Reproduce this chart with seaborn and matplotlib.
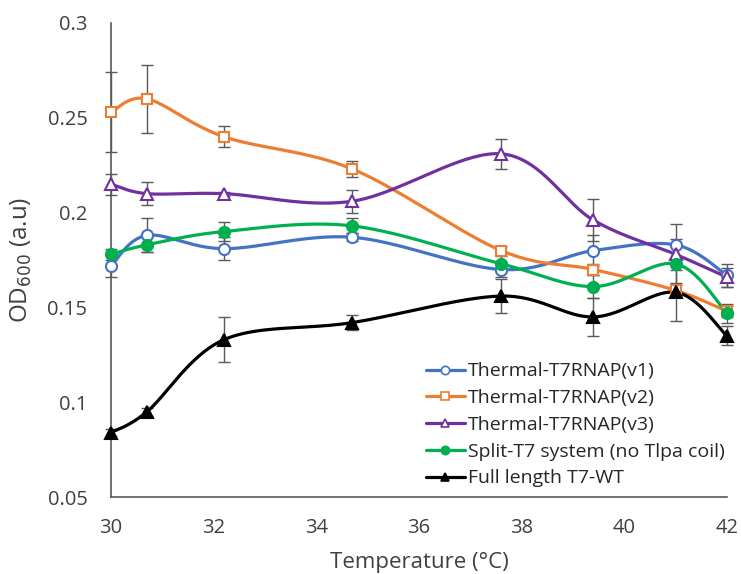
import numpy as np
import pandas as pd
import matplotlib
matplotlib.use("Agg")
import matplotlib.pyplot as plt
from matplotlib.lines import Line2D
from matplotlib.ticker import FuncFormatter
import seaborn as sns

# Temperatures at which OD600 was measured
temperature = [30.0, 30.7, 32.2, 34.7, 37.6, 39.4, 41.0, 42.0]

v1_mean = [0.172, 0.188, 0.181, 0.187, 0.170, 0.180, 0.183, 0.167]
v1_err = [0.006, 0.009, 0.006, 0.002, 0.004, 0.008, 0.011, 0.006]

v2_mean = [0.253, 0.260, 0.240, 0.223, 0.180, 0.170, 0.159, 0.148]
v2_err = [0.021, 0.018, 0.0055, 0.004, 0.002, 0.003, 0.003, 0.003]

v3_mean = [0.215, 0.210, 0.210, 0.206, 0.231, 0.196, 0.178, 0.166]
v3_err = [0.0055, 0.006, 0.001, 0.006, 0.008, 0.011, 0.008, 0.005]

split_mean = [0.178, 0.183, 0.190, 0.193, 0.173, 0.161, 0.173, 0.147]
split_err = [0.003, 0.004, 0.005, 0.004, 0.004, 0.006, 0.010, 0.005]

wt_mean = [0.084, 0.095, 0.133, 0.142, 0.156, 0.145, 0.158, 0.135]
wt_err = [0.002, 0.002, 0.012, 0.004, 0.009, 0.010, 0.015, 0.005]

labels = [
    "Thermal-T7RNAP(v1)",
    "Thermal-T7RNAP(v2)",
    "Thermal-T7RNAP(v3)",
    "Split-T7 system (no Tlpa coil)",
    "Full length T7-WT",
]
means = [v1_mean, v2_mean, v3_mean, split_mean, wt_mean]
errors = [v1_err, v2_err, v3_err, split_err, wt_err]

colors = ["#4472C4", "#ED7D31", "#7030A0", "#00B050", "#000000"]
markers = ["o", "s", "^", "o", "^"]
hollow = [True, True, True, False, False]


def smooth_curve(xs, ys, n=40):
    """Catmull-Rom style Bezier smoothing through every point."""
    pts = np.column_stack([xs, ys]).astype(float)
    p = np.vstack([pts[0], pts, pts[-1]])
    out = []
    t = np.linspace(0, 1, n)[:, None]
    for i in range(1, len(p) - 2):
        p0, p1, p2, p3 = p[i - 1], p[i], p[i + 1], p[i + 2]
        c1 = p1 + (p2 - p0) / 6.0
        c2 = p2 - (p3 - p1) / 6.0
        seg = ((1 - t) ** 3) * p1 + 3 * ((1 - t) ** 2) * t * c1 \
            + 3 * (1 - t) * t ** 2 * c2 + t ** 3 * p2
        out.append(seg if i == 1 else seg[1:])
    curve = np.vstack(out)
    return curve[:, 0], curve[:, 1]


sns.set_theme(style="white")
plt.rcParams["font.family"] = ["Open Sans", "DejaVu Sans"]

fig = plt.figure(figsize=(7.41, 5.74), dpi=100)
ax = fig.add_axes([0.1498, 0.134, 0.8312, 0.826])

grey = "#595959"
for lab, m, e, c, mk, h in zip(labels, means, errors, colors, markers, hollow):
    sx, sy = smooth_curve(temperature, m)
    curve = pd.DataFrame({"x": sx, "y": sy})
    sns.lineplot(data=curve, x="x", y="y", sort=False, color=c, lw=2.3,
                 ax=ax, zorder=3)
    ax.errorbar(temperature, m, yerr=e, fmt="none", ecolor=grey,
                elinewidth=1.0, capsize=4, capthick=1.0, zorder=2,
                clip_on=False)
    ax.plot(temperature, m, ls="none", marker=mk, ms=8 if mk != "s" else 7.5,
            mfc="white" if h else c, mec=c, mew=1.5, zorder=4,
            clip_on=False)

ax.set_xlim(30, 42)
ax.set_ylim(0.05, 0.3)
ax.set_xticks([30, 32, 34, 36, 38, 40, 42])
ax.set_yticks([0.05, 0.1, 0.15, 0.2, 0.25, 0.3])
ax.yaxis.set_major_formatter(FuncFormatter(lambda v, _: f"{v:g}"))
ax.tick_params(axis="both", labelsize=14.5, colors="#404040", length=0)
ax.tick_params(axis="x", pad=15)
ax.tick_params(axis="y", pad=17)

for side in ["top", "right"]:
    ax.spines[side].set_visible(False)
for side in ["left", "bottom"]:
    ax.spines[side].set_color(grey)
    ax.spines[side].set_linewidth(1.2)

ax.set_xlabel("Temperature (°C)", fontsize=16, color="#404040", labelpad=10)
ax.set_ylabel("OD$_{600}$ (a.u)", fontsize=17.5, color="#404040", labelpad=10)

handles = [
    Line2D([], [], color=c, lw=2.3, marker=mk, ms=6,
           mfc="white" if h else c, mec=c, mew=1.2)
    for c, mk, h in zip(colors, markers, hollow)
]
leg = ax.legend(handles, labels, loc="lower right", frameon=False,
                fontsize=14, handlelength=2.0, handletextpad=0.15,
                labelspacing=0.45, borderaxespad=0.1,
                bbox_to_anchor=(1.012, 0.0))
for t in leg.get_texts():
    t.set_color("#262626")

fig.savefig("out.png", dpi=100)
